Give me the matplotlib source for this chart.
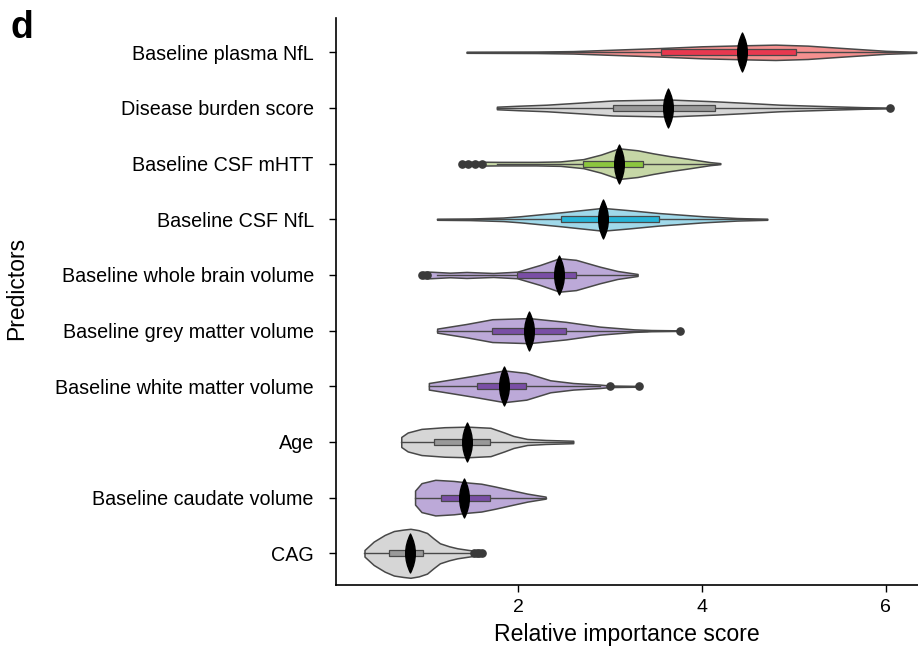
"""
Violin + box plots of relative importance score for each predictor.
Profiles (half-widths in row units) read off the reference figure.
"""

import numpy as np
import matplotlib
matplotlib.use("Agg")
import matplotlib.pyplot as plt
from matplotlib.path import Path
from matplotlib.patches import Rectangle

# ── Data ───────────────────────────────────────────────────────────────────────

PREDICTORS = [
    "Baseline plasma NfL",
    "Disease burden score",
    "Baseline CSF mHTT",
    "Baseline CSF NfL",
    "Baseline whole brain volume",
    "Baseline grey matter volume",
    "Baseline white matter volume",
    "Age",
    "Baseline caudate volume",
    "CAG",
]

CENTRES  = [4.44, 3.63, 3.10, 2.92, 2.45, 2.12, 1.85, 1.45, 1.41, 0.83]
Q1       = [3.555, 3.03, 2.71, 2.47, 1.99, 1.72, 1.55, 1.09, 1.16, 0.60]
Q3       = [5.02, 4.14, 3.36, 3.53, 2.63, 2.52, 2.09, 1.70, 1.69, 0.97]
WHISK_LO = [1.44, 1.77, 1.77, 1.12, 1.12, 1.12, 1.03, 0.73, 0.88, 0.33]
WHISK_HI = [6.33, 5.76, 4.16, 4.71, 3.29, 3.40, 2.89, 2.60, 2.30, 1.50]

OUTLIERS = [
    [],
    [6.05],
    [1.39, 1.46, 1.53, 1.61],
    [],
    [0.96, 1.01],
    [3.76],
    [3.00, 3.32],
    [],
    [],
    [1.52, 1.55, 1.58, 1.61],
]

PROFILE_X = [
    [1.44, 2.2, 2.6, 3.0, 3.55, 4.0, 4.45, 4.8, 5.15, 5.5, 5.75, 6.0, 6.33],
    [1.77, 2.0, 2.31, 2.7, 3.03, 3.63, 4.14, 4.5, 4.85, 5.4, 5.76, 6.05],
    [1.37, 1.5, 1.8, 2.2, 2.46, 2.71, 2.9, 3.1, 3.3, 3.47, 3.65, 3.84, 4.09, 4.2],
    [1.12, 1.48, 1.84, 2.02, 2.47, 2.92, 3.2, 3.53, 4.02, 4.38, 4.71],
    [0.93, 0.97, 1.05, 1.26, 1.44, 1.73, 1.99, 2.24, 2.45, 2.63, 2.89, 3.08, 3.3],
    [1.12, 1.44, 1.72, 2.12, 2.52, 2.89, 3.26, 3.45, 3.76],
    [1.03, 1.26, 1.55, 1.85, 2.09, 2.35, 2.6, 2.89, 3.0, 3.32],
    [0.73, 0.8, 0.95, 1.2, 1.45, 1.7, 1.85, 1.95, 2.1, 2.3, 2.6],
    [0.88, 0.95, 1.1, 1.3, 1.45, 1.6, 1.75, 1.95, 2.1, 2.3],
    [0.33, 0.43, 0.55, 0.65, 0.75, 0.83, 0.92, 1.01, 1.08, 1.15, 1.25, 1.34,
     1.45, 1.51, 1.61],
]

PROFILE_HW = [
    [0.009, 0.013, 0.022, 0.045, 0.077, 0.108, 0.126, 0.138, 0.120, 0.081,
     0.054, 0.027, 0.009],
    [0.023, 0.040, 0.059, 0.099, 0.135, 0.153, 0.120, 0.090, 0.059, 0.031,
     0.014, 0.007],
    [0.036, 0.036, 0.032, 0.032, 0.040, 0.081, 0.162, 0.275, 0.240, 0.185,
     0.135, 0.090, 0.027, 0.009],
    [0.009, 0.014, 0.032, 0.054, 0.126, 0.205, 0.165, 0.113, 0.054, 0.023,
     0.009],
    [0.027, 0.059, 0.059, 0.041, 0.054, 0.036, 0.059, 0.180, 0.300, 0.272,
     0.149, 0.072, 0.018],
    [0.036, 0.120, 0.205, 0.225, 0.158, 0.072, 0.023, 0.011, 0.005],
    [0.059, 0.120, 0.198, 0.285, 0.240, 0.108, 0.059, 0.031, 0.014, 0.007],
    [0.090, 0.170, 0.235, 0.265, 0.275, 0.255, 0.170, 0.108, 0.054, 0.036,
     0.022],
    [0.126, 0.260, 0.320, 0.300, 0.272, 0.250, 0.200, 0.126, 0.072, 0.018],
    [0.059, 0.210, 0.330, 0.400, 0.425, 0.440, 0.415, 0.365, 0.269, 0.180,
     0.126, 0.090, 0.063, 0.049, 0.045],
]

X_TICKS = [2, 4, 6]

# ── Style ──────────────────────────────────────────────────────────────────────

RED    = ("#f4908f", "#e8384f")
GREY   = ("#d6d6d6", "#999999")
GREEN  = ("#c6d7a6", "#8cc63e")
BLUE   = ("#a0d9ea", "#27b5d8")
PURPLE = ("#bca9d8", "#7a4ea6")

STYLES = [RED, GREY, GREEN, BLUE, PURPLE, PURPLE, PURPLE, GREY, PURPLE, GREY]
EDGE   = "#484848"

plt.rcParams["font.family"] = ["Liberation Sans", "DejaVu Sans"]

# lens-shaped marker for the centre value
LENS = Path(
    [(0, 1), (0.5, 0), (0, -1), (-0.5, 0), (0, 1), (0, 1)],
    [Path.MOVETO, Path.CURVE3, Path.CURVE3, Path.CURVE3, Path.CURVE3,
     Path.CLOSEPOLY],
)


def main() -> None:
    fig = plt.figure(figsize=(9.18, 6.46), dpi=100)
    ax = fig.add_axes([0.366, 0.0944, 0.634, 0.8777])

    for i in range(len(PREDICTORS)):
        violin_c, box_c = STYLES[i]
        xs = np.array(PROFILE_X[i])
        hw = np.array(PROFILE_HW[i])

        ax.fill_between(xs, i - hw, i + hw, facecolor=violin_c,
                        edgecolor=EDGE, linewidth=1.1, zorder=2)
        ax.plot([WHISK_LO[i], WHISK_HI[i]], [i, i], color=EDGE,
                linewidth=1.0, zorder=3)
        ax.add_patch(Rectangle((Q1[i], i - 0.055), Q3[i] - Q1[i], 0.11,
                               facecolor=box_c, edgecolor=EDGE,
                               linewidth=0.9, zorder=4))
        if OUTLIERS[i]:
            ax.plot(OUTLIERS[i], [i] * len(OUTLIERS[i]), "o",
                    color="#3a3a3a", markersize=5.2, zorder=5)
        ax.plot([CENTRES[i]], [i], marker=LENS, color="black",
                markersize=28, linestyle="none", zorder=6)

    # ── Formatting ─────────────────────────────────────────────────────────────
    ax.set_xlim(0.02, 6.35)
    ax.set_ylim(9.57, -0.616)
    ax.set_yticks(range(len(PREDICTORS)))
    ax.set_yticklabels(PREDICTORS, fontsize=14.2)
    ax.set_xticks(X_TICKS)
    ax.set_xticklabels([str(t) for t in X_TICKS], fontsize=14)
    ax.tick_params(axis="y", length=5, width=1.0, pad=11)
    ax.tick_params(axis="x", length=5, width=1.0, pad=5)

    for side in ("top", "right"):
        ax.spines[side].set_visible(False)
    for side in ("left", "bottom"):
        ax.spines[side].set_linewidth(1.2)

    ax.set_xlabel("Relative importance score", fontsize=16.6, labelpad=5)
    ax.set_ylabel("Predictors", fontsize=16.5)
    ax.yaxis.set_label_coords(-0.529, 0.523)

    fig.text(0.011, 0.985, "d", fontsize=27, fontweight="bold", va="top")

    fig.savefig("out.png", dpi=100)
    plt.close(fig)


if __name__ == "__main__":
    main()
